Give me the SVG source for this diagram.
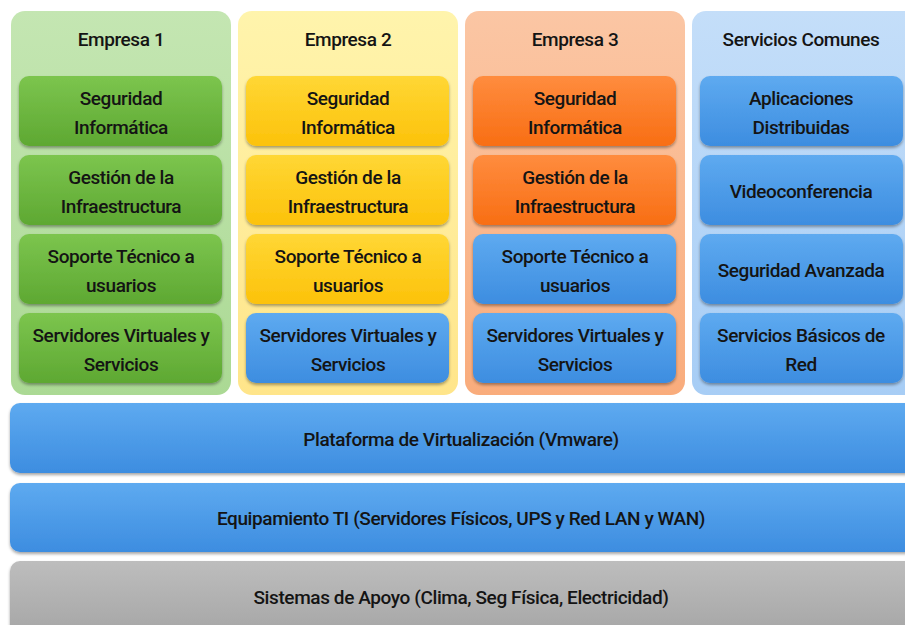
<svg xmlns="http://www.w3.org/2000/svg" width="905" height="625" viewBox="0 0 905 625">
<defs>
<linearGradient id="gC1" x1="0" y1="0" x2="0" y2="1"><stop offset="0" stop-color="#c4e6b2"/><stop offset="1" stop-color="#abd994"/></linearGradient>
<linearGradient id="gC2" x1="0" y1="0" x2="0" y2="1"><stop offset="0" stop-color="#fff4ac"/><stop offset="1" stop-color="#ffe58a"/></linearGradient>
<linearGradient id="gC3" x1="0" y1="0" x2="0" y2="1"><stop offset="0" stop-color="#fbc6a4"/><stop offset="1" stop-color="#f9ac7c"/></linearGradient>
<linearGradient id="gC4" x1="0" y1="0" x2="0" y2="1"><stop offset="0" stop-color="#c4def9"/><stop offset="1" stop-color="#a7cdf5"/></linearGradient>
<linearGradient id="gG" x1="0" y1="0" x2="0" y2="1"><stop offset="0" stop-color="#7cc54e"/><stop offset="1" stop-color="#5ea832"/></linearGradient>
<linearGradient id="gY" x1="0" y1="0" x2="0" y2="1"><stop offset="0" stop-color="#ffd735"/><stop offset="1" stop-color="#fcc20a"/></linearGradient>
<linearGradient id="gO" x1="0" y1="0" x2="0" y2="1"><stop offset="0" stop-color="#ff8c3e"/><stop offset="1" stop-color="#f86e14"/></linearGradient>
<linearGradient id="gB" x1="0" y1="0" x2="0" y2="1"><stop offset="0" stop-color="#5eaaf0"/><stop offset="1" stop-color="#3d8de0"/></linearGradient>
<linearGradient id="gS" x1="0" y1="0" x2="0" y2="1"><stop offset="0" stop-color="#bdbdbd"/><stop offset="1" stop-color="#a4a4a4"/></linearGradient>
<filter id="sh" x="-5%" y="-10%" width="110%" height="130%">
<feDropShadow dx="0" dy="2" stdDeviation="1.5" flood-color="#000" flood-opacity="0.35"/>
</filter>
</defs>
<style>
text{font-family:Roboto,"Liberation Sans",Arial,sans-serif;font-size:19px;font-weight:500;fill:#141414;text-anchor:middle;letter-spacing:-0.4px}
.box{filter:url(#sh)}
</style>
<rect width="905" height="625" fill="#ffffff"/>

<g id="empresa1">
<rect x="11" y="11" width="220" height="384" rx="14" fill="url(#gC1)"/>
<text x="121" y="46">Empresa 1</text>
</g>
<g id="empresa2">
<rect x="238" y="11" width="220" height="384" rx="14" fill="url(#gC2)"/>
<text x="348" y="46">Empresa 2</text>
</g>
<g id="empresa3">
<rect x="465" y="11" width="220" height="384" rx="14" fill="url(#gC3)"/>
<text x="575" y="46">Empresa 3</text>
</g>
<g id="servicios-comunes">
<rect x="692" y="11" width="230" height="384" rx="14" fill="url(#gC4)"/>
<text x="801" y="46">Servicios Comunes</text>
</g>

<!-- Empresa 1 -->
<g id="e1-seguridad"><rect class="box" x="19" y="76" width="203" height="70" rx="10" fill="url(#gG)"/><text x="121" y="105">Seguridad</text><text x="121" y="134">Informática</text></g>
<g id="e1-gestion"><rect class="box" x="19" y="155" width="203" height="70" rx="10" fill="url(#gG)"/><text x="121" y="184">Gestión de la</text><text x="121" y="213">Infraestructura</text></g>
<g id="e1-soporte"><rect class="box" x="19" y="234" width="203" height="70" rx="10" fill="url(#gG)"/><text x="121" y="263">Soporte Técnico a</text><text x="121" y="292">usuarios</text></g>
<g id="e1-servidores"><rect class="box" x="19" y="313" width="203" height="70" rx="10" fill="url(#gG)"/><text x="121" y="342">Servidores Virtuales y</text><text x="121" y="371">Servicios</text></g>

<!-- Empresa 2 -->
<g id="e2-seguridad"><rect class="box" x="246" y="76" width="203" height="70" rx="10" fill="url(#gY)"/><text x="348" y="105">Seguridad</text><text x="348" y="134">Informática</text></g>
<g id="e2-gestion"><rect class="box" x="246" y="155" width="203" height="70" rx="10" fill="url(#gY)"/><text x="348" y="184">Gestión de la</text><text x="348" y="213">Infraestructura</text></g>
<g id="e2-soporte"><rect class="box" x="246" y="234" width="203" height="70" rx="10" fill="url(#gY)"/><text x="348" y="263">Soporte Técnico a</text><text x="348" y="292">usuarios</text></g>
<g id="e2-servidores"><rect class="box" x="246" y="313" width="203" height="70" rx="10" fill="url(#gB)"/><text x="348" y="342">Servidores Virtuales y</text><text x="348" y="371">Servicios</text></g>

<!-- Empresa 3 -->
<g id="e3-seguridad"><rect class="box" x="473" y="76" width="203" height="70" rx="10" fill="url(#gO)"/><text x="575" y="105">Seguridad</text><text x="575" y="134">Informática</text></g>
<g id="e3-gestion"><rect class="box" x="473" y="155" width="203" height="70" rx="10" fill="url(#gO)"/><text x="575" y="184">Gestión de la</text><text x="575" y="213">Infraestructura</text></g>
<g id="e3-soporte"><rect class="box" x="473" y="234" width="203" height="70" rx="10" fill="url(#gB)"/><text x="575" y="263">Soporte Técnico a</text><text x="575" y="292">usuarios</text></g>
<g id="e3-servidores"><rect class="box" x="473" y="313" width="203" height="70" rx="10" fill="url(#gB)"/><text x="575" y="342">Servidores Virtuales y</text><text x="575" y="371">Servicios</text></g>

<!-- Servicios Comunes -->
<g id="sc-aplicaciones"><rect class="box" x="700" y="76" width="203" height="70" rx="10" fill="url(#gB)"/><text x="801" y="105">Aplicaciones</text><text x="801" y="134">Distribuidas</text></g>
<g id="sc-video"><rect class="box" x="700" y="155" width="203" height="70" rx="10" fill="url(#gB)"/><text x="801" y="198">Videoconferencia</text></g>
<g id="sc-seguridad"><rect class="box" x="700" y="234" width="203" height="70" rx="10" fill="url(#gB)"/><text x="801" y="277">Seguridad Avanzada</text></g>
<g id="sc-basicos"><rect class="box" x="700" y="313" width="203" height="70" rx="10" fill="url(#gB)"/><text x="801" y="342">Servicios Básicos de</text><text x="801" y="371">Red</text></g>

<!-- Capas -->
<g id="plataforma"><rect class="box" x="10" y="403" width="910" height="70" rx="10" fill="url(#gB)"/><text x="461" y="446">Plataforma de Virtualización (Vmware)</text></g>
<g id="equipamiento"><rect class="box" x="10" y="483" width="910" height="69" rx="10" fill="url(#gB)"/><text x="461" y="525">Equipamiento TI (Servidores Físicos, UPS y Red LAN y WAN)</text></g>
<g id="sistemas"><rect class="box" x="10" y="561" width="910" height="80" rx="10" fill="url(#gS)"/><text x="461" y="604">Sistemas de Apoyo (Clima, Seg Física, Electricidad)</text></g>

<g id="connectors"/>
</svg>
